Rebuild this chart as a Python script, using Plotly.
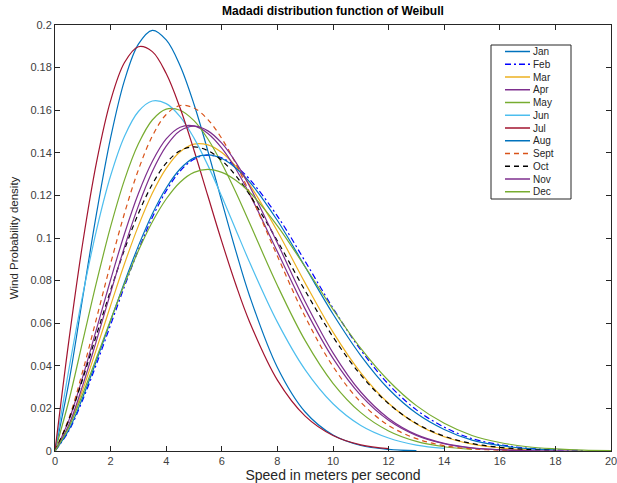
import plotly.graph_objects as go

# Wind speed grid (m/s) and monthly Weibull probability densities at Madadi
speed = [0, 0.5, 1, 1.5, 2, 2.5, 3, 3.5, 4, 4.5, 5, 5.5, 6, 6.5, 7,
         8, 9, 10, 11, 12, 13, 14, 15, 16, 17, 18, 19, 20]

jan = [0, 0.0323, 0.0723, 0.1120, 0.1470, 0.1740, 0.1910, 0.1975, 0.1930, 0.1809,
       0.1628, 0.1408, 0.1172, 0.0941, 0.0728, 0.0392, 0.0183, 0.0075, 0.0026,
       0.0008, 0.0002]
feb = [0, 0.0095, 0.0241, 0.0411, 0.0592, 0.0773, 0.0944, 0.1096, 0.1221, 0.1314,
       0.1370, 0.1389, 0.1376, 0.1337, 0.1276, 0.1103, 0.0890, 0.0671, 0.0474,
       0.0313, 0.0193, 0.0112, 0.0058, 0.0030, 0.0013, 0.0006, 0.0002]
mar = [0, 0.0116, 0.0288, 0.0482, 0.0683, 0.0879, 0.1057, 0.1210, 0.1327, 0.1405,
       0.1441, 0.1437, 0.1401, 0.1337, 0.1251, 0.1032, 0.0788, 0.0558, 0.0367,
       0.0224, 0.0127, 0.0067, 0.0032, 0.0015, 0.0005]
apr = [0, 0.0145, 0.0349, 0.0576, 0.0804, 0.1020, 0.1209, 0.1359, 0.1465, 0.1520,
       0.1526, 0.1491, 0.1422, 0.1325, 0.1206, 0.0936, 0.0666, 0.0435, 0.0261,
       0.0144, 0.0073, 0.0034, 0.0014, 0.0006, 0.0002]
may = [0, 0.0237, 0.0517, 0.0796, 0.1053, 0.1273, 0.1442, 0.1554, 0.1605, 0.1600,
       0.1551, 0.1465, 0.1350, 0.1216, 0.1070, 0.0777, 0.0518, 0.0318, 0.0180,
       0.0094, 0.0045, 0.0020, 0.0008]
jun = [0, 0.0383, 0.0734, 0.1041, 0.1292, 0.1478, 0.1594, 0.1643, 0.1631, 0.1570,
       0.1469, 0.1341, 0.1195, 0.1040, 0.0886, 0.0605, 0.0381, 0.0222, 0.0120,
       0.0061, 0.0028, 0.0012]
jul = [0, 0.0519, 0.0979, 0.1360, 0.1645, 0.1824, 0.1898, 0.1875, 0.1772, 0.1610,
       0.1412, 0.1197, 0.0983, 0.0783, 0.0606, 0.0333, 0.0164, 0.0073, 0.0029,
       0.0011]
aug = [0, 0.0100, 0.0252, 0.0427, 0.0611, 0.0793, 0.0963, 0.1113, 0.1235, 0.1324,
       0.1376, 0.1390, 0.1373, 0.1329, 0.1264, 0.1082, 0.0864, 0.0643, 0.0448,
       0.0291, 0.0177, 0.0101, 0.0051, 0.0026, 0.0011, 0.0005]
sept = [0, 0.0153, 0.0376, 0.0626, 0.0879, 0.1116, 0.1320, 0.1478, 0.1580, 0.1622,
        0.1610, 0.1556, 0.1467, 0.1350, 0.1213, 0.0915, 0.0630, 0.0397, 0.0229,
        0.0120, 0.0058, 0.0025, 0.0010, 0.0004, 0.0002]
oct_ = [0, 0.0147, 0.0340, 0.0548, 0.0754, 0.0946, 0.1115, 0.1252, 0.1352, 0.1410,
        0.1428, 0.1410, 0.1364, 0.1293, 0.1203, 0.0986, 0.0752, 0.0536, 0.0357,
        0.0222, 0.0129, 0.0070, 0.0035, 0.0017, 0.0007, 0.0003]
nov = [0, 0.0123, 0.0309, 0.0522, 0.0743, 0.0958, 0.1151, 0.1312, 0.1431, 0.1503,
       0.1525, 0.1503, 0.1445, 0.1356, 0.1243, 0.0976, 0.0701, 0.0461, 0.0277,
       0.0153, 0.0077, 0.0036, 0.0015, 0.0006, 0.0002, 0.0001, 0]
dec = [0, 0.0113, 0.0269, 0.0440, 0.0615, 0.0784, 0.0940, 0.1075, 0.1183, 0.1262,
       0.1308, 0.1322, 0.1308, 0.1271, 0.1215, 0.1057, 0.0864, 0.0665, 0.0482,
       0.0330, 0.0213, 0.0130, 0.0073, 0.0040, 0.0020, 0.0010, 0.0004, 0.0002]

months = ["Jan", "Feb", "Mar", "Apr", "May", "Jun",
          "Jul", "Aug", "Sept", "Oct", "Nov", "Dec"]
density = [jan, feb, mar, apr, may, jun, jul, aug, sept, oct_, nov, dec]

line_colors = ["#0072BD", "#0000FF", "#EDB120", "#7E2F8E", "#77AC30", "#4DBEEE",
               "#A2142F", "#0072BD", "#D95319", "#000000", "#7E2F8E", "#77AC30"]
line_dash = ["solid", "6px,3px,2px,3px", "solid", "solid", "solid", "solid",
             "solid", "solid", "5px,4px", "5px,4px", "solid", "solid"]

x_ticks = [0, 2, 4, 6, 8, 10, 12, 14, 16, 18, 20]
y_ticks = [0, 0.02, 0.04, 0.06, 0.08, 0.1, 0.12, 0.14, 0.16, 0.18, 0.2]
y_tick_text = ["0", "0.02", "0.04", "0.06", "0.08", "0.1",
               "0.12", "0.14", "0.16", "0.18", "0.2"]

FONT = "Liberation Sans, Arial, sans-serif"
AXIS_COLOR = "#262626"
TICK_COLOR = "#404040"

fig = go.Figure()
for name, vals, col, dash in zip(months, density, line_colors, line_dash):
    fig.add_trace(go.Scatter(
        x=speed[:len(vals)], y=vals, mode="lines", name=name,
        line=dict(color=col, width=1.2, dash=dash, shape="spline", smoothing=1.0),
        showlegend=False,
    ))

# Compact boxed legend in the upper right of the axes
W, H = 617, 483
L, R, T, B = 55, 6, 25, 32
pw, ph = W - L - R, H - T - B


def px_x(p):
    return (p - L) / pw


def px_y(p):
    return (H - B - p) / ph


box = dict(x0=491, x1=571, y0=45, y1=199)
row0, row_step = 51.5, 12.75
fig.add_shape(type="rect", xref="paper", yref="paper",
              x0=px_x(box["x0"]), x1=px_x(box["x1"]),
              y0=px_y(box["y1"]), y1=px_y(box["y0"]),
              line=dict(color=AXIS_COLOR, width=1), fillcolor="white", layer="above")
for i, (name, col, dash) in enumerate(zip(months, line_colors, line_dash)):
    yy = px_y(row0 + i * row_step)
    fig.add_shape(type="line", xref="paper", yref="paper",
                  x0=px_x(505), x1=px_x(530), y0=yy, y1=yy,
                  line=dict(color=col, width=1.5, dash=dash), layer="above")
    fig.add_annotation(xref="paper", yref="paper", x=px_x(531), y=yy,
                       text=name, showarrow=False, xanchor="left", yanchor="middle",
                       font=dict(family=FONT, size=10, color=AXIS_COLOR))

axis_common = dict(
    showline=True, linecolor=AXIS_COLOR, linewidth=1, mirror="ticks",
    ticks="inside", ticklen=5, tickcolor=AXIS_COLOR, showgrid=False, zeroline=False,
    tickfont=dict(family=FONT, size=11, color=TICK_COLOR), automargin=False,
    ticklabeloverflow="allow",
)

fig.update_layout(
    width=W, height=H,
    margin=dict(l=L, r=R, t=T, b=B),
    paper_bgcolor="white", plot_bgcolor="white",
    title=dict(text="<b>Madadi distribution function of Weibull</b>",
               x=0.5, xref="paper", y=1 - 11 / H, yref="container",
               xanchor="center", yanchor="middle",
               font=dict(family=FONT, size=12, color="#000000")),
    xaxis=dict(range=[0, 20], tickvals=x_ticks, ticktext=[str(t) for t in x_ticks],
               title=dict(text="Speed in meters per second", standoff=8,
                          font=dict(family=FONT, size=14, color=AXIS_COLOR)),
               **axis_common),
    yaxis=dict(range=[0, 0.2], tickvals=y_ticks, ticktext=y_tick_text,
               title=dict(text="Wind Probability density", standoff=9,
                          font=dict(family=FONT, size=11.5, color=AXIS_COLOR)),
               **axis_common),
    showlegend=False,
)

fig.write_html("out.html")
